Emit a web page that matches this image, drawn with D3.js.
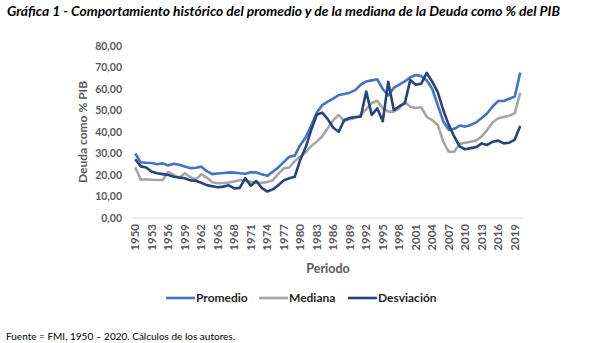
<!DOCTYPE html>
<html>
<head>
<meta charset="utf-8">
<script src="https://cdn.jsdelivr.net/npm/d3@7"></script>
<style>
  body { margin: 0; background: #fff; }
  svg { display: block; font-family: Lato, "Open Sans", sans-serif; }
</style>
</head>
<body>
<svg id="chart" width="597" height="343"></svg>
<script>
// Years 1950 - 2020
const years = d3.range(1950, 2021);

const promedio = [
  30.0, 25.9, 25.7, 25.6, 25.0, 25.4, 24.4, 25.2, 24.8, 24.0,
  23.2, 23.4, 23.9, 21.8, 20.4, 20.7, 20.9, 21.2, 21.1, 20.8,
  20.6, 21.3, 21.2, 20.3, 19.6, 21.5, 23.5, 26.0, 28.5, 29.0,
  34.0, 37.5, 43.0, 49.0, 52.5, 54.1, 55.5, 57.2, 57.7, 58.3,
  59.5, 62.0, 63.5, 64.0, 64.5, 60.0, 57.0, 60.5, 62.0, 63.5,
  65.5, 66.5, 66.0, 64.0, 60.0, 52.5, 45.0, 41.0, 41.5, 43.0,
  42.5, 43.3, 44.5, 46.5, 48.7, 52.0, 54.4, 54.4, 55.5, 56.5,
  67.6
];

const mediana = [
  23.6, 17.8, 18.0, 17.8, 17.7, 17.7, 21.5, 20.0, 18.7, 20.8,
  19.0, 18.0, 20.3, 18.8, 16.6, 16.2, 16.3, 16.5, 17.0, 17.7,
  17.3, 16.9, 16.5, 16.4, 16.7, 17.5, 20.5, 23.1, 23.5, 26.5,
  28.5, 30.5, 33.5, 35.5, 38.0, 41.7, 45.5, 47.9, 45.0, 46.0,
  46.5, 48.0, 50.5, 53.5, 54.5, 51.0, 49.5, 49.5, 51.0, 54.0,
  51.8, 51.2, 51.5, 47.0, 45.5, 43.3, 35.5, 30.8, 30.8, 34.5,
  35.0, 35.5, 36.0, 38.0, 41.0, 44.5, 46.4, 47.0, 47.6, 48.7,
  58.3
];

const desviacion = [
  27.3, 24.0, 23.5, 21.5, 20.8, 20.4, 20.0, 19.2, 18.8, 18.5,
  17.5, 17.3, 16.4, 15.3, 14.8, 14.3, 14.6, 15.2, 13.8, 14.0,
  18.5, 15.0, 17.2, 14.0, 12.3, 13.3, 15.2, 17.5, 18.5, 19.2,
  27.0, 33.0, 41.0, 48.0, 49.0, 46.0, 42.0, 40.1, 45.6, 46.5,
  47.0, 47.1, 58.8, 47.9, 51.0, 45.0, 63.4, 50.2, 52.0, 53.3,
  64.2, 62.0, 62.5, 67.5, 63.4, 58.5, 50.2, 43.3, 37.8, 33.2,
  32.0, 32.5, 33.0, 34.7, 34.0, 35.5, 36.0, 34.7, 35.0, 36.5,
  42.8
];

const yTicks = [0, 10, 20, 30, 40, 50, 60, 70, 80];
const xTickYears = d3.range(1950, 2021, 3);

const series = [
  { name: "Promedio", values: promedio, color: "#4472C4" },
  { name: "Mediana", values: mediana, color: "#A5A5A5" },
  { name: "Desviación", values: desviacion, color: "#264478" }
];

const svg = d3.select("#chart");
const plotLeft = 132.5, plotRight = 523, plotTop = 46, plotBottom = 218;

const x = d3.scaleBand().domain(years).range([plotLeft, plotRight]);
const y = d3.scaleLinear().domain([0, 80]).range([plotBottom, plotTop]);
const cx = d => x(d) + x.bandwidth() / 2;

// Title
svg.append("text")
  .attr("x", 7).attr("y", 16)
  .attr("font-size", 13.5)
  .attr("font-weight", "bold")
  .attr("font-style", "italic")
  .attr("fill", "#000")
  .attr("textLength", 553)
  .attr("lengthAdjust", "spacingAndGlyphs")
  .text("Gráfica 1 - Comportamiento histórico del promedio y de la mediana de la Deuda como % del PIB");

// Y axis labels
const yAxis = d3.axisLeft(y).tickValues(yTicks).tickSize(0).tickPadding(0)
  .tickFormat(d => d3.format(".2f")(d).replace(".", ","));
svg.append("g")
  .attr("transform", `translate(122,0)`)
  .call(yAxis)
  .call(g => g.select(".domain").remove())
  .call(g => g.selectAll("text")
    .attr("font-family", "Lato, sans-serif")
    .attr("font-size", 10.5)
    .attr("font-weight", "bold")
    .attr("fill", "#595959"));

// Y axis title
svg.append("text")
  .attr("transform", "translate(87,132) rotate(-90)")
  .attr("text-anchor", "middle")
  .attr("font-size", 12)
  .attr("font-weight", "bold")
  .attr("fill", "#595959")
  .text("Deuda como % PIB");

// X axis line
svg.append("line")
  .attr("x1", plotLeft).attr("x2", plotRight)
  .attr("y1", plotBottom).attr("y2", plotBottom)
  .attr("stroke", "#d9d9d9").attr("stroke-width", 1);

// X tick labels (rotated)
svg.append("g")
  .selectAll("text")
  .data(xTickYears)
  .join("text")
  .attr("transform", d => `translate(${cx(d) + 4},224) rotate(-90)`)
  .attr("text-anchor", "end")
  .attr("font-size", 11.5)
  .attr("font-weight", "bold")
  .attr("fill", "#595959")
  .text(d => d);

// X axis title
svg.append("text")
  .attr("x", 328).attr("y", 273)
  .attr("text-anchor", "middle")
  .attr("font-size", 12.5)
  .attr("font-weight", "bold")
  .attr("fill", "#595959")
  .text("Periodo");

// Lines
const line = d3.line()
  .x((d, i) => cx(years[i]))
  .y(d => y(d));

svg.append("g")
  .selectAll("path")
  .data(series)
  .join("path")
  .attr("fill", "none")
  .attr("stroke", d => d.color)
  .attr("stroke-width", 2.6)
  .attr("stroke-linejoin", "round")
  .attr("d", d => line(d.values));

// Legend
const legendX = [166, 259, 348];
const legend = svg.append("g")
  .selectAll("g")
  .data(series)
  .join("g")
  .attr("transform", (d, i) => `translate(${legendX[i]},298)`);

legend.append("line")
  .attr("x1", 0).attr("x2", 29)
  .attr("stroke", d => d.color)
  .attr("stroke-width", 2.6);

legend.append("text")
  .attr("x", 30).attr("y", 4)
  .attr("font-size", 12)
  .attr("font-weight", "bold")
  .attr("fill", "#262626")
  .text(d => d.name);

// Source
svg.append("text")
  .attr("x", 6).attr("y", 340)
  .attr("font-size", 10)
  .attr("fill", "#000")
  .text("Fuente = FMI, 1950 – 2020. Cálculos de los autores.");
</script>
</body>
</html>
